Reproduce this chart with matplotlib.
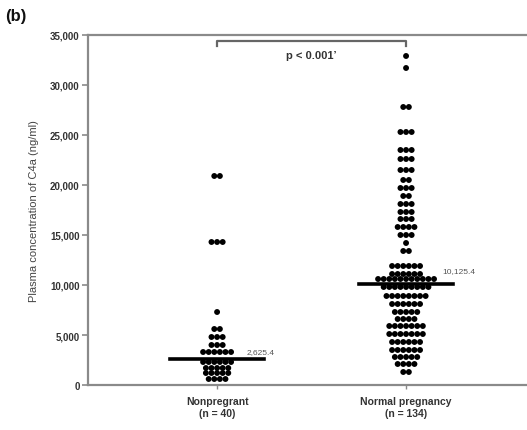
import matplotlib.pyplot as plt
import numpy as np

plt.rcParams['font.family'] = ['Liberation Sans', 'DejaVu Sans']

# Data: each row of dots is (value, count)
groups = ["Nonpregrant\n(n = 40)", "Normal pregnancy\n(n = 134)"]

nonpreg_levels = [20900, 14300, 7300, 5600, 4800, 4000, 3300, 2300, 1700, 1200, 600]
nonpreg_counts = [2, 3, 1, 2, 3, 3, 6, 6, 5, 5, 4]

preg_levels = [32900, 31700, 27800, 25300, 23500, 22600, 21500, 20500, 19700,
               18900, 18100, 17300, 16600, 15800, 15000, 14200, 13400, 11900,
               11100, 10600, 9800, 8900, 8100, 7300, 6600, 5900, 5100, 4300,
               3500, 2800, 2100, 1300]
preg_counts = [1, 1, 2, 3, 3, 3, 3, 2, 3, 2, 3, 3, 3, 4, 3, 1, 2, 6, 6, 11,
               9, 8, 6, 5, 4, 7, 7, 6, 6, 5, 4, 2]

medians = [2625.4, 10125.4]
median_labels = ["2,625.4", "10,125.4"]
p_text = "p < 0.001\u2019"

ink = "#333333"
axis_gray = "#8a8a8a"

fig = plt.figure(figsize=(5.27, 4.31), dpi=100)
ax = fig.add_axes([0.167, 0.1044, 0.833, 0.8121])

spacing = 0.0296
for i, (levels, counts) in enumerate([(nonpreg_levels, nonpreg_counts),
                                      (preg_levels, preg_counts)]):
    xs, ys = [], []
    for v, n in zip(levels, counts):
        offs = (np.arange(n) - (n - 1) / 2) * spacing
        xs.extend(i + offs)
        ys.extend([v] * n)
    ax.scatter(xs, ys, s=18, color="black", edgecolors="none", zorder=3)
    ax.plot([i - 0.25, i + 0.25], [medians[i]] * 2, color="black", lw=2.6, zorder=4)

ax.text(0.155, medians[0] + 700, median_labels[0], fontsize=6, color="#555555",
        ha="left", va="center")
ax.text(1.19, medians[1] + 1300, median_labels[1], fontsize=6, color="#555555",
        ha="left", va="center")

# significance bracket
ax.plot([0, 0, 1, 1], [33900, 34400, 34400, 33900], color="#666666", lw=1.6,
        clip_on=False)
ax.text(0.5, 33500, p_text, ha="center", va="top", fontsize=8, fontweight="bold",
        color=ink)

ax.set_xlim(-0.683, 1.64)
ax.set_ylim(0, 35000)
ax.set_yticks(np.arange(0, 35001, 5000))
ax.set_yticklabels([f"{v:,}" for v in range(0, 35001, 5000)])
ax.set_xticks([0, 1])
ax.set_xticklabels(groups)

for s in ["left", "bottom", "top"]:
    ax.spines[s].set_color(axis_gray)
    ax.spines[s].set_linewidth(1.6)
ax.spines["right"].set_visible(False)

ax.tick_params(axis="y", colors=axis_gray, labelcolor=ink, length=4, width=1.2,
               labelsize=7, pad=2)
ax.tick_params(axis="x", colors=axis_gray, labelcolor=ink, length=3, width=1,
               labelsize=7.5, pad=5)
for lab in ax.get_yticklabels() + ax.get_xticklabels():
    lab.set_fontweight("bold")

ax.set_ylabel("Plasma concentration of C4a (ng/ml)", fontsize=8, color="#444444",
              labelpad=8)

fig.text(0.01, 0.978, "(b)", fontsize=12, fontweight="bold", color="#111111",
         ha="left", va="top")

fig.savefig("out.png", dpi=100)
